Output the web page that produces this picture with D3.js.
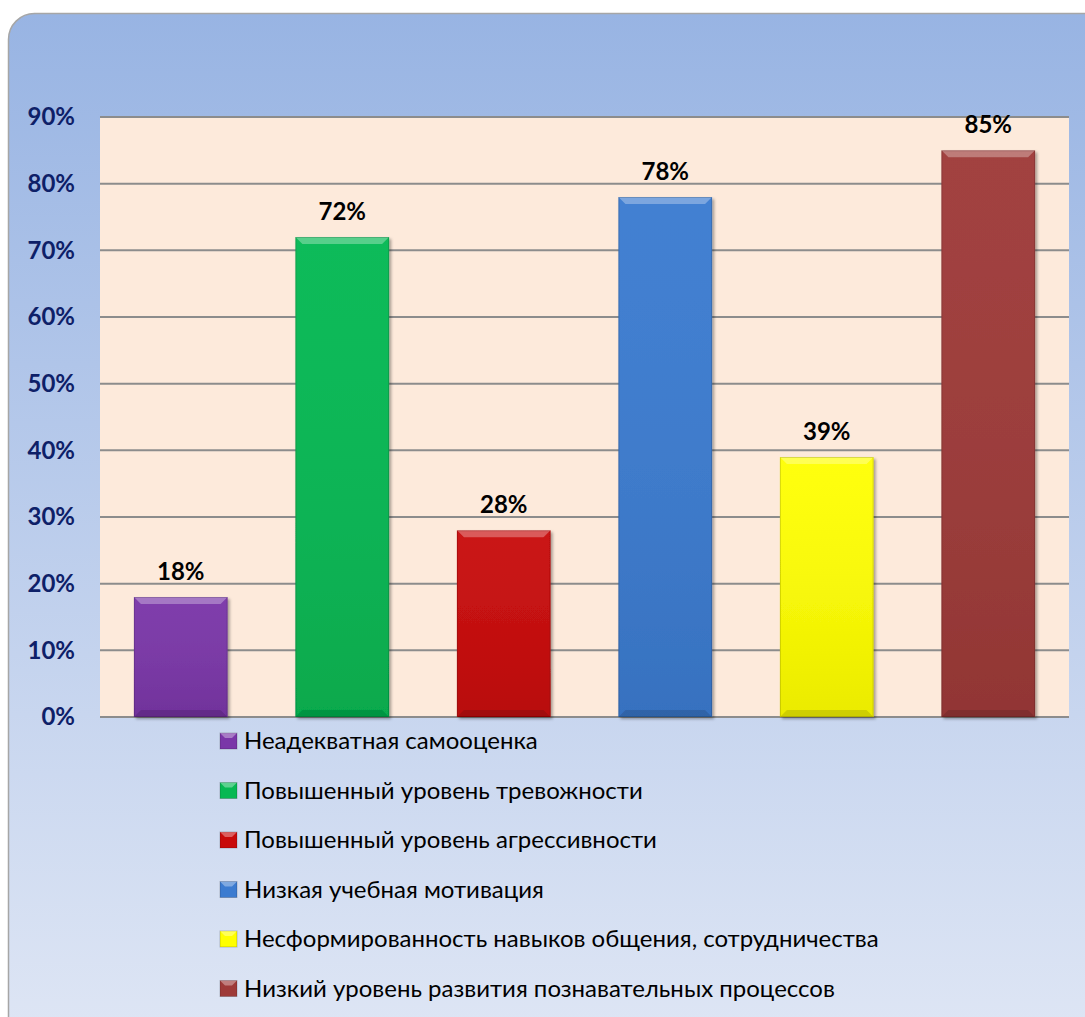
<!DOCTYPE html>
<html lang="ru">
<head>
<meta charset="UTF-8">
<title>Chart</title>
<style>
  body { margin: 0; background: #fff; }
  svg { display: block; }
  text { font-family: Lato, "Open Sans", sans-serif; }
</style>
</head>
<body>
<div id="chart"></div>
<script src="https://cdn.jsdelivr.net/npm/d3@7"></script>
<script>
// data
const categories = [
    "Неадекватная самооценка",
    "Повышенный уровень тревожности",
    "Повышенный уровень агрессивности",
    "Низкая учебная мотивация",
    "Несформированность навыков общения, сотрудничества",
    "Низкий уровень развития познавательных процессов"
];
const values = [0.18, 0.72, 0.28, 0.78, 0.39, 0.85];
const yTicks = [0, 0.1, 0.2, 0.3, 0.4, 0.5, 0.6, 0.7, 0.8, 0.9];
const barColors = ["#7a36a8", "#07b853", "#c80a0a", "#3b7bd0", "#ffff00", "#9e3a38"];

const width = 1085, height = 1017;
const plot = { left: 100, right: 1069, top: 117, bottom: 717 };

const svg = d3.select("#chart").append("svg")
    .attr("width", width)
    .attr("height", height);

const defs = svg.append("defs");

const bg = defs.append("linearGradient").attr("id", "bg")
    .attr("x1", 0).attr("y1", 0).attr("x2", 0).attr("y2", 1);
bg.append("stop").attr("offset", "0%").attr("stop-color", "#98b4e3");
bg.append("stop").attr("offset", "100%").attr("stop-color", "#e0e7f5");

// shading for the bars (a bit darker toward the bottom)
const shade = defs.append("linearGradient").attr("id", "shade")
    .attr("x1", 0).attr("y1", 0).attr("x2", 0).attr("y2", 1);
shade.append("stop").attr("offset", "0%").attr("stop-color", "#fff").attr("stop-opacity", 0.04);
shade.append("stop").attr("offset", "100%").attr("stop-color", "#000").attr("stop-opacity", 0.08);

const shadow = defs.append("filter").attr("id", "shadow")
    .attr("x", "-20%").attr("y", "-20%").attr("width", "140%").attr("height", "140%");
shadow.append("feDropShadow").attr("dx", 2).attr("dy", 2)
    .attr("stdDeviation", 1.5).attr("flood-opacity", 0.35);

// chart background
svg.append("rect")
    .attr("x", 8.5).attr("y", 13.5)
    .attr("width", 1120).attr("height", 1050)
    .attr("rx", 26).attr("ry", 26)
    .attr("fill", "url(#bg)")
    .attr("stroke", "#a6a6a6")
    .attr("stroke-width", 1.5);

const x = d3.scaleBand()
    .domain(categories)
    .range([plot.left, plot.right])
    .paddingInner(0.42)
    .paddingOuter(0.21);

const y = d3.scaleLinear()
    .domain([0, 0.9])
    .range([plot.bottom, plot.top]);

svg.append("rect")
    .attr("x", plot.left).attr("y", plot.top)
    .attr("width", plot.right - plot.left)
    .attr("height", plot.bottom - plot.top)
    .attr("fill", "#fdeadb");

// gridlines
svg.append("g")
    .selectAll("line")
    .data(yTicks)
    .join("line")
    .attr("x1", plot.left).attr("x2", plot.right)
    .attr("y1", d => y(d)).attr("y2", d => y(d))
    .attr("stroke", "#8c8c8c")
    .attr("stroke-width", 2);

// y axis labels
const yAxis = svg.append("g")
    .attr("transform", `translate(${plot.left},0)`)
    .call(d3.axisLeft(y).tickValues(yTicks).tickFormat(d3.format(".0%")).tickSize(0).tickPadding(25));
yAxis.select(".domain").remove();
yAxis.selectAll("text")
    .attr("fill", "#0e2068")
    .style("font-family", "Lato, sans-serif")
    .style("font-size", "24px")
    .style("font-weight", "bold");

// bars
const bars = svg.append("g").selectAll("g")
    .data(values)
    .join("g")
    .attr("filter", "url(#shadow)");

bars.append("rect")
    .attr("x", (d, i) => x(categories[i]))
    .attr("y", d => y(d))
    .attr("width", x.bandwidth())
    .attr("height", d => y(0) - y(d))
    .attr("fill", (d, i) => barColors[i]);

bars.append("rect")
    .attr("x", (d, i) => x(categories[i]))
    .attr("y", d => y(d))
    .attr("width", x.bandwidth())
    .attr("height", d => y(0) - y(d))
    .attr("fill", "url(#shade)");

// bevel: light top edge, dark bottom edge
const bev = 7;
bars.append("path")
    .attr("d", (d, i) => {
        const x0 = x(categories[i]), x1 = x0 + x.bandwidth(), t = y(d);
        return `M${x0},${t}L${x1},${t}L${x1 - bev},${t + bev}L${x0 + bev},${t + bev}Z`;
    })
    .attr("fill", "#fff").attr("fill-opacity", 0.3);
bars.append("path")
    .attr("d", (d, i) => {
        const x0 = x(categories[i]), x1 = x0 + x.bandwidth(), b = y(0);
        return `M${x0},${b}L${x1},${b}L${x1 - bev},${b - bev}L${x0 + bev},${b - bev}Z`;
    })
    .attr("fill", "#000").attr("fill-opacity", 0.12);
bars.append("rect")
    .attr("x", (d, i) => x(categories[i]) + 0.5)
    .attr("y", d => y(d) + 0.5)
    .attr("width", x.bandwidth() - 1)
    .attr("height", d => y(0) - y(d) - 1)
    .attr("fill", "none")
    .attr("stroke", "#000").attr("stroke-opacity", 0.15);

// value labels
svg.append("g").selectAll("text")
    .data(values)
    .join("text")
    .attr("x", (d, i) => x(categories[i]) + x.bandwidth() / 2)
    .attr("y", d => y(d) - 17)
    .attr("text-anchor", "middle")
    .attr("font-size", "24px")
    .attr("font-weight", "bold")
    .attr("fill", "#000")
    .text(d => d3.format(".0%")(d));

// legend
const legend = svg.append("g").selectAll("g")
    .data(categories)
    .join("g")
    .attr("transform", (d, i) => `translate(220,${741 + i * 49.5})`);

legend.append("rect")
    .attr("x", 0).attr("y", -8)
    .attr("width", 17).attr("height", 16)
    .attr("fill", (d, i) => barColors[i])
    .attr("stroke", "#000").attr("stroke-opacity", 0.2);
legend.append("path")
    .attr("d", "M0,-8L17,-8L12,-3L5,-3Z")
    .attr("fill", "#fff").attr("fill-opacity", 0.35);

legend.append("text")
    .attr("x", 24)
    .attr("y", 0)
    .attr("dy", "0.35em")
    .attr("font-size", "24px")
    .attr("fill", "#000")
    .text(d => d);
</script>
</body>
</html>
